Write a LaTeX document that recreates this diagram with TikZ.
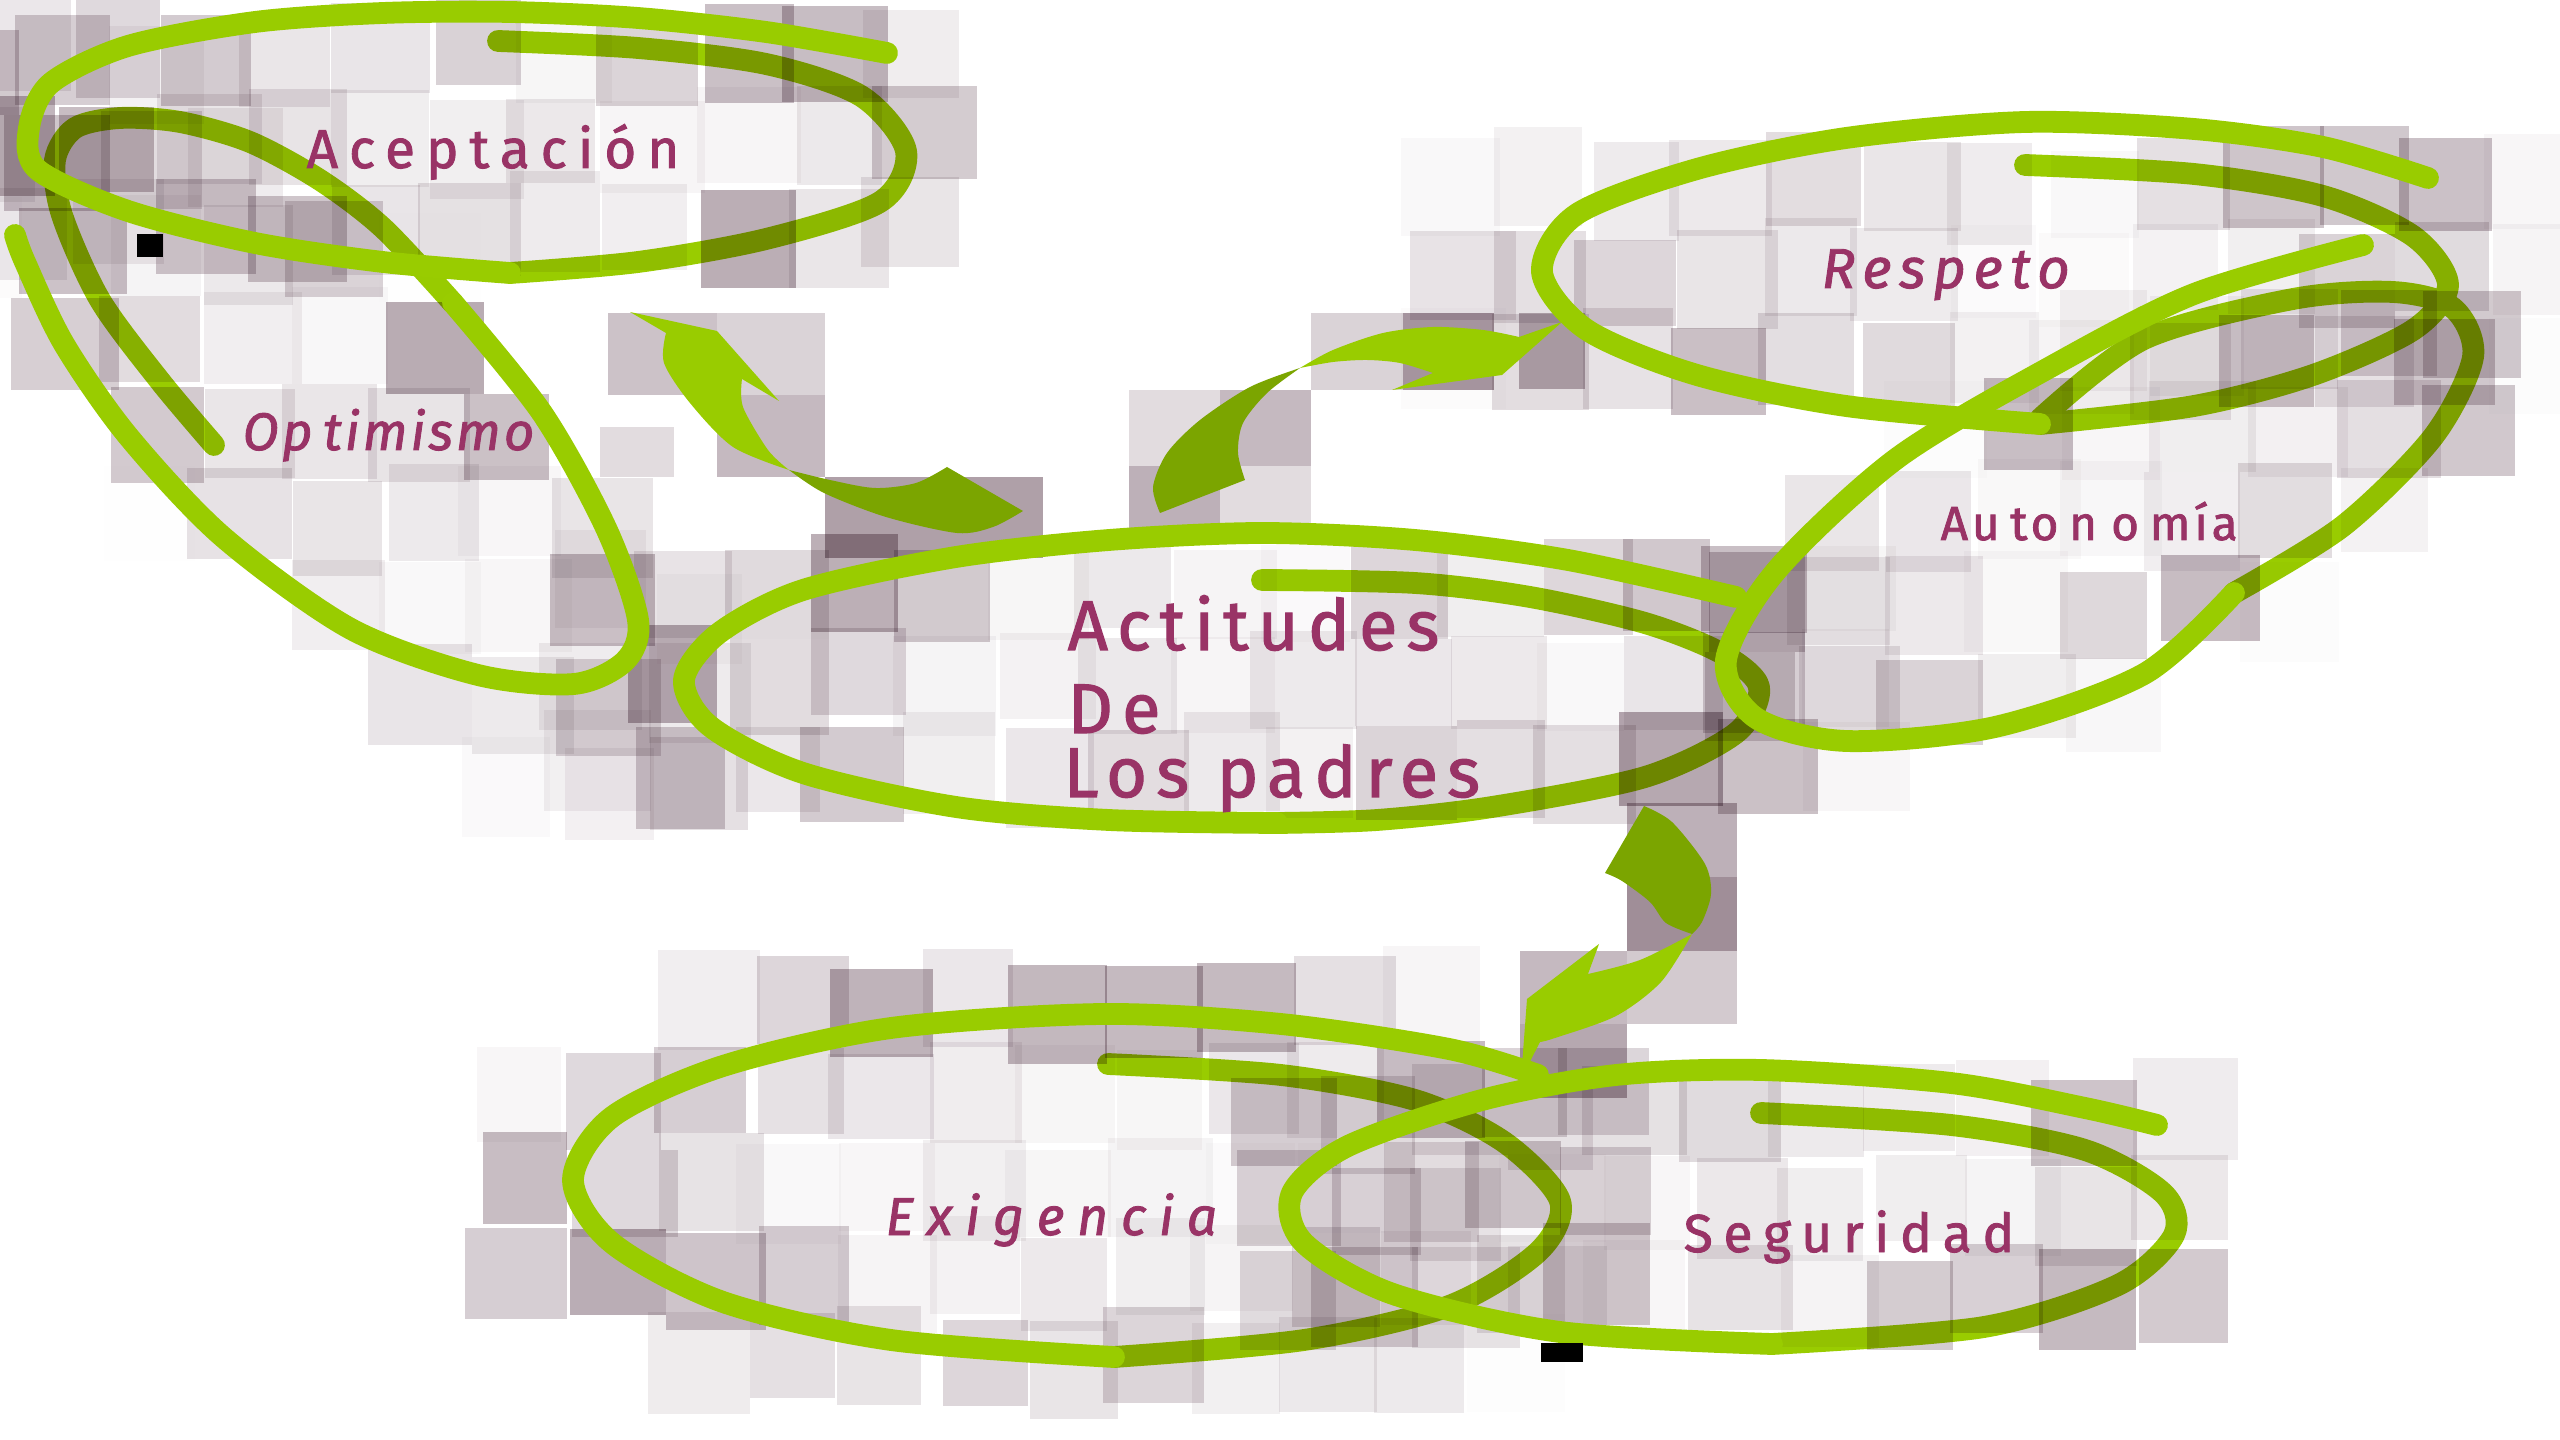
\documentclass[tikz,border=0pt]{standalone}
\usepackage{fontspec}
\setmainfont{Fira Sans}
\newfontfamily\fAcep[LetterSpace=20,FakeBold=1.6]{Fira Sans}
\newfontfamily\fAct[LetterSpace=13,FakeBold=1.6]{Fira Sans}
\newfontfamily\fOpt[LetterSpace=6,FakeBold=1.6]{Fira Sans}
\newfontfamily\fRes[LetterSpace=14,FakeBold=1.6]{Fira Sans}
\newfontfamily\fAut[LetterSpace=8,FakeBold=1.6]{Fira Sans}
\newfontfamily\fExi[LetterSpace=24,FakeBold=1.6]{Fira Sans}
\newfontfamily\fSeg[LetterSpace=20,FakeBold=1.6]{Fira Sans}
\definecolor{lgreen}{RGB}{153,204,0}
\definecolor{dgreen}{RGB}{123,165,0}
\definecolor{plum}{RGB}{153,51,102}
\definecolor{mauve}{RGB}{110,82,98}
\tikzset{
  loopA/.style={draw=lgreen, line width=6.2pt, line cap=round, line join=round},
  loopB/.style={draw=lgreen, line width=6.2pt, line cap=round, line join=round},
  lbl/.style={text=plum, inner sep=0pt, anchor=base west},
  tile/.style={fill=mauve},
}
\newcommand{\mosaic}[5]{%
  \pgfmathsetmacro{\mCa}{cos(#5)}%
  \pgfmathsetmacro{\mSa}{sin(#5)}%
  \pgfmathsetmacro{\mW}{1.2*100*sqrt((#3*\mCa/100)^2+(#4*\mSa/100)^2)}%
  \pgfmathsetmacro{\mH}{1.2*100*sqrt((#3*\mSa/100)^2+(#4*\mCa/100)^2)}%
  \pgfmathtruncatemacro{\mNx}{\mW/90}%
  \pgfmathtruncatemacro{\mNy}{\mH/90}%
  \foreach \mi in {-\mNx,...,\mNx}{%
    \foreach \mj in {-\mNy,...,\mNy}{%
      \pgfmathsetmacro{\mDx}{\mi*90+(rnd-0.5)*20}%
      \pgfmathsetmacro{\mDy}{\mj*90+(rnd-0.5)*20}%
      \pgfmathsetmacro{\mU}{(\mDx*\mCa+\mDy*\mSa)/#3}%
      \pgfmathsetmacro{\mV}{(-\mDx*\mSa+\mDy*\mCa)/#4}%
      \pgfmathsetmacro{\mR}{sqrt(\mU*\mU+\mV*\mV)}%
      \pgfmathsetmacro{\mOp}{min(0.55,(0.14*(\mR<1.25)+0.34*max(0,1-abs(\mR-1)/0.42))*(0.15+0.95*rnd))}%
      \pgfmathsetmacro{\mSw}{84+24*rnd}%
      \pgfmathsetmacro{\mSh}{84+18*rnd}%
      \fill[tile, fill opacity=\mOp] ({#1+\mDx-\mSw/2},{#2+\mDy-\mSh/2}) rectangle ++(\mSw,\mSh);
    }}}
\begin{document}
\begin{tikzpicture}[x=0.1mm,y=-0.1mm]
\useasboundingbox (0,0) rectangle (2560,1440);
\fill[white] (0,0) rectangle (2560,1440);
\pgfmathsetseed{4711}

% inner (under) strokes
\draw[loopB] plot[smooth] coordinates {(498,41) (638,48) (766,64) (861,96) (906,151) (880,202) (766,239) (638,262) (510,273)};
\draw[loopB] plot[smooth] coordinates {(214,445) (160,381) (100,300) (62,215) (55,160) (75,128) (120,118) (180,122) (250,142) (320,180) (383,228) (453,303)};
\draw[loopB] plot[smooth] coordinates {(1262,580) (1415,583) (1530,597) (1645,623) (1721,653) (1759,687) (1736,733) (1645,777) (1492,807) (1377,820) (1277,823)};
\draw[loopB] plot[smooth] coordinates {(2025,165) (2194,174) (2323,196) (2413,236) (2448,285) (2413,330) (2313,375) (2194,406) (2040,424)};
\draw[loopB] plot[smooth] coordinates {(2040,419) (2144,339) (2293,299) (2393,292) (2453,308) (2473,357) (2433,437) (2343,526) (2234,593)};
\draw[loopB] plot[smooth] coordinates {(1108,1064) (1281,1075) (1415,1100) (1504,1142) (1560,1201) (1538,1252) (1449,1306) (1304,1340) (1114,1357)};
\draw[loopB] plot[smooth] coordinates {(1761,1113) (1951,1125) (2085,1150) (2163,1193) (2174,1235) (2118,1285) (1984,1327) (1772,1344)};

% mosaic
\begin{scope}[blend mode=multiply]
\mosaic{470}{141}{436}{130}{0}
\mosaic{335}{430}{410}{135}{45}
\mosaic{1222}{678}{540}{145}{0}
\mosaic{1995}{275}{460}{150}{0}
\mosaic{2112}{517}{404}{125}{-29}
\mosaic{1066}{1185}{495}{170}{0}
\mosaic{1733}{1207}{440}{135}{0}
% arrow tiles
\fill[tile, fill opacity=.35] (608,313) rectangle (717,395);
\fill[tile, fill opacity=.25] (717,313) rectangle (825,395);
\fill[tile, fill opacity=.40] (717,395) rectangle (825,477);
\fill[tile, fill opacity=.55] (825,477) rectangle (1043,558);
\fill[tile, fill opacity=.20] (600,427) rectangle (674,477);
\fill[tile, fill opacity=.25] (1311,313) rectangle (1403,390);
\fill[tile, fill opacity=.60] (1403,313) rectangle (1494,390);
\fill[tile, fill opacity=.45] (1519,313) rectangle (1585,389);
\fill[tile, fill opacity=.20] (1129,390) rectangle (1220,466);
\fill[tile, fill opacity=.40] (1220,390) rectangle (1311,466);
\fill[tile, fill opacity=.45] (1129,466) rectangle (1220,543);
\fill[tile, fill opacity=.20] (1220,466) rectangle (1311,525);
\fill[tile, fill opacity=.45] (1627,803) rectangle (1737,877);
\fill[tile, fill opacity=.65] (1627,877) rectangle (1737,951);
\fill[tile, fill opacity=.40] (1520,951) rectangle (1627,1024);
\fill[tile, fill opacity=.30] (1627,951) rectangle (1737,1024);
\fill[tile, fill opacity=.50] (1520,1024) rectangle (1627,1098);
\end{scope}

% outer (top) strokes
\draw[loopA] plot[smooth] coordinates {(510,273) (383,262) (255,243) (128,211) (38,170) (29,128) (51,83) (128,46) (255,22) (383,13) (510,12) (638,18) (766,32) (887,53)};
\draw[loopA] plot[smooth] coordinates {(453,303) (542,413) (606,528) (638,620) (625,661) (574,684) (478,675) (351,629) (223,537) (128,436) (64,344) (25,262) (15,235)};
\draw[loopA] plot[smooth] coordinates {(1277,823) (1109,820) (956,807) (803,773) (711,727) (684,680) (719,633) (803,590) (956,557) (1109,540) (1262,533) (1415,540) (1568,560) (1736,597)};
\draw[loopA] plot[smooth] coordinates {(2040,424) (1846,406) (1697,375) (1587,330) (1542,272) (1577,214) (1697,169) (1846,138) (2025,122) (2194,129) (2323,147) (2428,178)};
\draw[loopA] plot[smooth] coordinates {(2234,593) (2144,674) (1995,727) (1846,741) (1756,718) (1726,660) (1776,571) (1896,459) (2045,370) (2194,294) (2363,245)};
\draw[loopA] plot[smooth] coordinates {(1114,1357) (891,1340) (723,1302) (612,1243) (573,1180) (612,1117) (723,1066) (891,1028) (1103,1014) (1281,1024) (1449,1049) (1538,1075)};
\draw[loopA] plot[smooth] coordinates {(1772,1344) (1560,1332) (1393,1294) (1304,1243) (1292,1193) (1348,1146) (1482,1100) (1616,1075) (1761,1070) (1951,1083) (2085,1108) (2157,1125)};

% arrow 1
\fill[dgreen] plot[smooth] coordinates {(789,470) (824,493) (886,517) (957,533) (993,527) (1023,511)} -- (947,467) -- plot[smooth] coordinates {(947,467) (916,483) (875,488) (830,480) (789,470)} -- cycle;
\fill[lgreen] (630,312) -- (717,331) -- (779,401) -- (742,379) -- plot[smooth] coordinates {(742,379) (743,407) (768,450) (789,470)} -- plot[smooth] coordinates {(789,470) (733,447) (690,403) (664,363) (666,333)} -- cycle;
% arrow 2
\fill[dgreen] plot[smooth] coordinates {(1300,368) (1250,387) (1200,420) (1167,453) (1153,487) (1160,513)} -- (1245,480) -- plot[smooth] coordinates {(1245,480) (1238,453) (1243,423) (1267,393) (1300,368)} -- cycle;
\fill[lgreen] plot[smooth] coordinates {(1300,368) (1333,350) (1383,333) (1433,327) (1483,330) (1519,337)} -- (1562,322) -- (1502,375) -- (1392,390) -- (1433,373) -- plot[smooth] coordinates {(1433,373) (1400,363) (1367,360) (1333,362) (1300,368)} -- cycle;
% arrow 3
\fill[dgreen] (1605,873) -- (1644,806) -- plot[smooth] coordinates {(1644,806) (1672,822) (1705,864) (1711,894) (1702,922) (1692,934)} -- plot[smooth] coordinates {(1692,934) (1666,923) (1650,902) (1622,881) (1605,873)} -- cycle;
\fill[lgreen] (1521,1079) -- (1527,999) -- (1599,944) -- (1588,974) -- plot[smooth] coordinates {(1588,974) (1640,960) (1692,934)} -- plot[smooth] coordinates {(1692,934) (1661,982) (1616,1016) (1555,1038) (1540,1042)} -- cycle;

% labels
\node[lbl, font=\fAcep\fontsize{15.6pt}{18pt}\selectfont] (acep) at (306,168) {Aceptación};
\node[lbl, font=\fOpt\itshape\fontsize{15pt}{17pt}\selectfont] (opt) at (242,450) {Op\hspace{3pt}timismo};
\node[lbl, font=\fAct\fontsize{20pt}{23pt}\selectfont] (act1) at (1067,650) {Actitudes};
\node[lbl, font=\fAct\fontsize{20pt}{23pt}\selectfont] (act2) at (1067,733) {De};
\node[lbl, font=\fAct\fontsize{20pt}{23pt}\selectfont] (act3) at (1063,797) {Los padres};
\node[lbl, font=\fRes\itshape\fontsize{16pt}{18pt}\selectfont] (res) at (1821,288) {Respeto};
\node[lbl, font=\fAut\fontsize{13.6pt}{16pt}\selectfont] (aut) at (1940,540) {Au\hspace{3pt}to\hspace{3pt}n\hspace{4pt}o\hspace{3pt}mía};
\node[lbl, font=\fExi\itshape\fontsize{15.2pt}{17pt}\selectfont] (exi) at (885,1235) {Exigencia};
\node[lbl, font=\fSeg\fontsize{15.2pt}{17pt}\selectfont] (seg) at (1683,1252) {Seguridad};

% small black marks
\fill[black] (137,234) rectangle (163,257);
\fill[black] (1541,1343) rectangle (1583,1362);
\end{tikzpicture}
\end{document}
